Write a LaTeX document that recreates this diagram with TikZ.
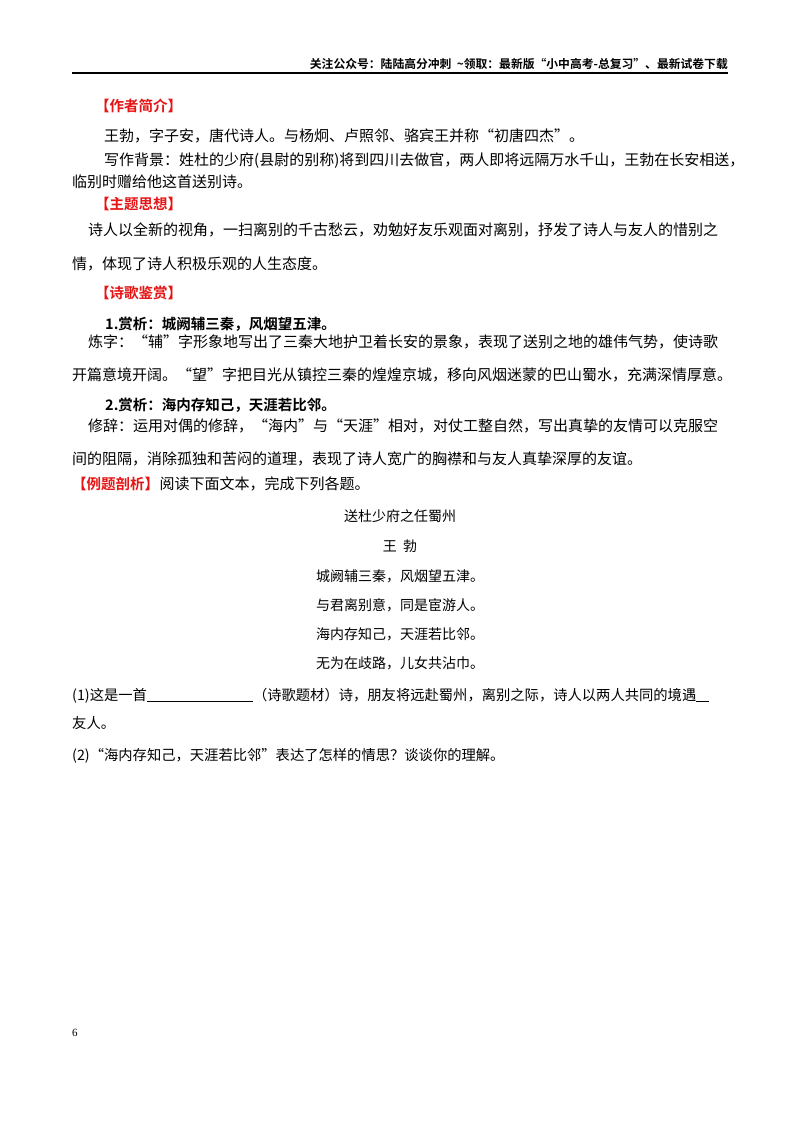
\documentclass[tikz,border=0pt]{standalone}
\usepackage{fontspec}
\setmainfont{Liberation Serif}
\newfontfamily\cjk{Noto Sans CJK SC}
\newfontfamily\cjkb{Noto Sans CJK SC Bold}
\definecolor{hred}{RGB}{230,20,20}
\begin{document}
\begin{tikzpicture}[x=1pt,y=-1pt,
  t/.style={anchor=base west,inner sep=0pt,font=\fontsize{15}{16}\cjk},
  tq/.style={anchor=base west,inner sep=0pt,font=\fontsize{14.3}{16}\cjk},
  tc/.style={anchor=base,inner sep=0pt,font=\fontsize{14}{16}\cjk},
  hd/.style={anchor=base west,inner sep=0pt,text=hred,font=\fontsize{14.5}{16}\cjkb},
  bd/.style={anchor=base west,inner sep=0pt,font=\fontsize{14.5}{16}\cjkb}]
\useasboundingbox[fill=white] (0,0) rectangle (800,1132);
\node[anchor=base east,inner sep=0pt,font=\fontsize{11.8}{14}\cjkb] (hdr) at (728,69) {关注公众号：陆陆高分冲刺\ \ \textasciitilde 领取：最新版“小中高考-总复习”、最新试卷下载};
\draw[line width=1.8pt] (72,73) -- (728,73);
\node[hd] (h1) at (95,111) {【作者简介】};
\node[t] (a1) at (104,141) {王勃，字子安，唐代诗人。与杨炯、卢照邻、骆宾王并称“初唐四杰”。};
\node[t] (a2) at (104,165) {写作背景：姓杜的少府(县尉的别称)将到四川去做官，两人即将远隔万水千山，王勃在长安相送，};
\node[t] (a3) at (72,187) {临别时赠给他这首送别诗。};
\node[hd] (h2) at (95,209) {【主题思想】};
\node[t] (b1) at (88,235) {诗人以全新的视角，一扫离别的千古愁云，劝勉好友乐观面对离别，抒发了诗人与友人的惜别之};
\node[t] (b2) at (72,269) {情，体现了诗人积极乐观的人生态度。};
\node[hd] (h3) at (95,298) {【诗歌鉴赏】};
\node[bd] (c1) at (105,329) {1.赏析：城阙辅三秦，风烟望五津。};
\node[t] (c2) at (88,347) {炼字：“辅”字形象地写出了三秦大地护卫着长安的景象，表现了送别之地的雄伟气势，使诗歌};
\node[t] (c3) at (72,380) {开篇意境开阔。“望”字把目光从镇控三秦的煌煌京城，移向风烟迷蒙的巴山蜀水，充满深情厚意。};
\node[bd] (d1) at (105,410) {2.赏析：海内存知己，天涯若比邻。};
\node[t] (d2) at (88,431) {修辞：运用对偶的修辞，“海内”与“天涯”相对，对仗工整自然，写出真挚的友情可以克服空};
\node[t] (d3) at (72,464) {间的阻隔，消除孤独和苦闷的道理，表现了诗人宽广的胸襟和与友人真挚深厚的友谊。};
\node[hd] (h4) at (72,489) {【例题剖析】};
\node[t,anchor=base west] (e0) at (h4.base east) {阅读下面文本，完成下列各题。};
\node[tc] (p0) at (400,521) {送杜少府之任蜀州};
\node[tc] (p1) at (400,551) {王\ \ 勃};
\node[tc] (p2) at (400,581) {城阙辅三秦，风烟望五津。};
\node[tc] (p3) at (400,610) {与君离别意，同是宦游人。};
\node[tc] (p4) at (400,639) {海内存知己，天涯若比邻。};
\node[tc] (p5) at (400,668) {无为在歧路，儿女共沾巾。};
\node[tq] (q1) at (72,700) {(1)这是一首\rule[-1.5pt]{106pt}{1pt}（诗歌题材）诗，朋友将远赴蜀州，离别之际，诗人以两人共同的境遇\rule[-1.5pt]{13pt}{1pt}};
\node[tq] (q1b) at (72,728) {友人。};
\node[tq] (q2) at (72,760) {(2)“海内存知己，天涯若比邻”表达了怎样的情思？谈谈你的理解。};
\node[anchor=base west,inner sep=0pt,font=\fontsize{11}{13}\selectfont] (pg) at (72,1036) {6};
\end{tikzpicture}
\end{document}
